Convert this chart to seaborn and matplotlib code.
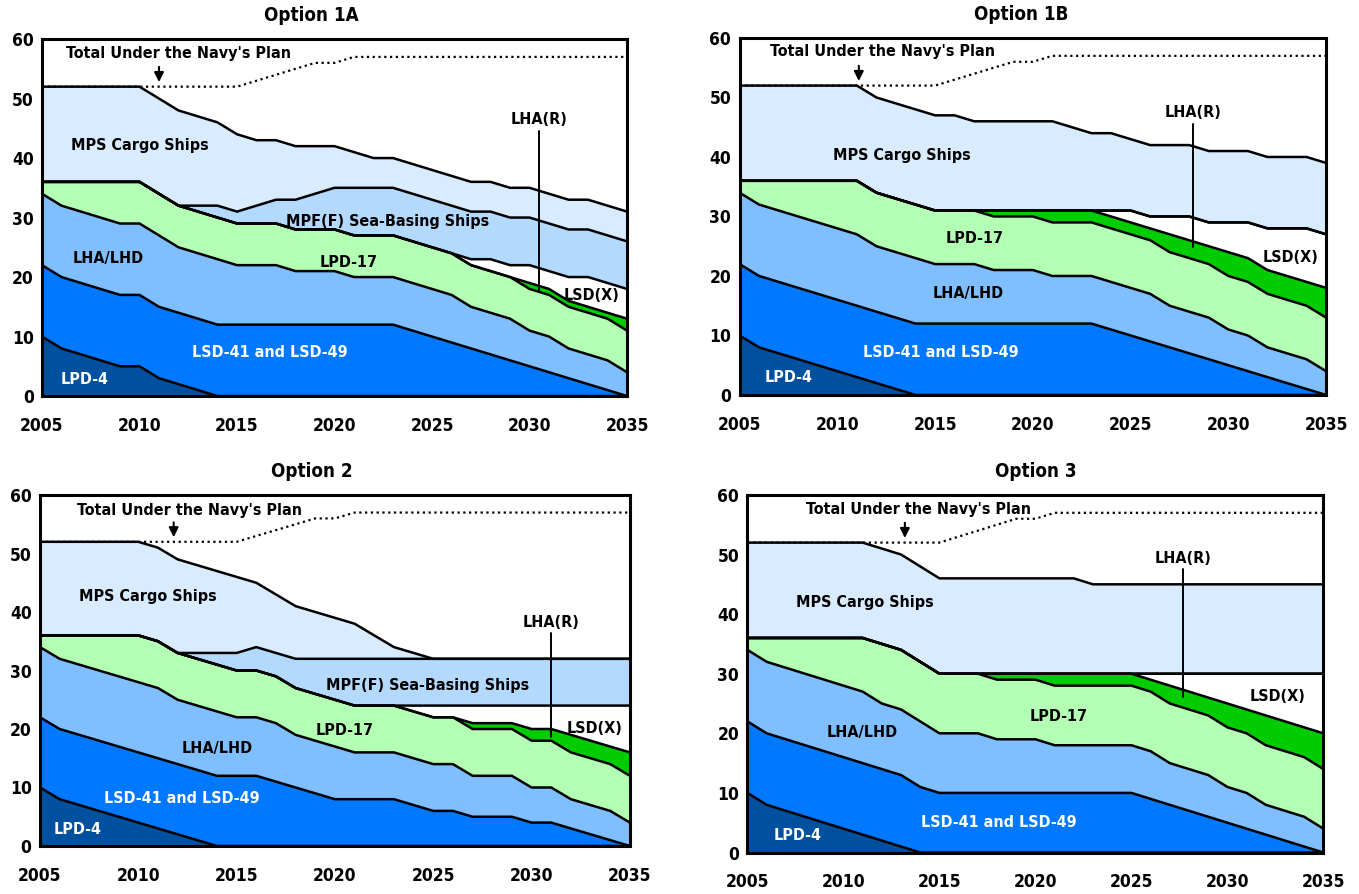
import numpy as np
import matplotlib
matplotlib.use("Agg")
import matplotlib.pyplot as plt
from matplotlib import font_manager
import seaborn as sns

sns.set_style("ticks")

# a narrow bold face is closest to the original; fall back to condensed DejaVu
names = {f.name for f in font_manager.fontManager.ttflist}
if "Liberation Sans Narrow" in names:
    plt.rcParams["font.family"] = ["Liberation Sans Narrow", "DejaVu Sans"]
    fs = 13
else:
    plt.rcParams["font.family"] = ["DejaVu Sans"]
    plt.rcParams["font.stretch"] = "condensed"
    fs = 11.5
plt.rcParams["font.weight"] = "bold"
for key in ["text.color", "axes.labelcolor", "xtick.color", "ytick.color", "axes.edgecolor"]:
    plt.rcParams[key] = "black"

# ---------------------------------------------------------------- data
years = list(range(2005, 2036))

# counts of ships, 2005..2035
lpd4 = [10, 8, 7, 6, 5, 4, 3, 2, 1, 0, 0, 0, 0, 0, 0, 0, 0, 0, 0, 0, 0, 0, 0, 0, 0, 0, 0, 0, 0, 0, 0]
lpd4_1a = [10, 8, 7, 6, 5, 5, 3, 2, 1, 0, 0, 0, 0, 0, 0, 0, 0, 0, 0, 0, 0, 0, 0, 0, 0, 0, 0, 0, 0, 0, 0]

lsd = [12, 12, 12, 12, 12, 12, 12, 12, 12, 12, 12, 12, 12, 12, 12, 12, 12, 12, 12, 11, 10, 9, 8, 7, 6, 5, 4, 3, 2, 1, 0]
lsd_2 = [12, 12, 12, 12, 12, 12, 12, 12, 12, 12, 12, 12, 11, 10, 9, 8, 8, 8, 8, 7, 6, 6, 5, 5, 5, 4, 4, 3, 2, 1, 0]
lsd_3 = [12, 12, 12, 12, 12, 12, 12, 12, 12, 11, 10, 10, 10, 10, 10, 10, 10, 10, 10, 10, 10, 9, 8, 7, 6, 5, 4, 3, 2, 1, 0]

lha_lhd = [12, 12, 12, 12, 12, 12, 12, 11, 11, 11, 10, 10, 10, 9, 9, 9, 8, 8, 8, 8, 8, 8, 7, 7, 7, 6, 6, 5, 5, 5, 4]

lpd17_1a = [2, 4, 5, 6, 7, 7, 7, 7, 7, 7, 7, 7, 7, 7, 7, 7, 7, 7, 7, 7, 7, 7, 7, 7, 7, 7, 7, 7, 7, 7, 7]
lpd17_1b = [2, 4, 5, 6, 7, 8, 9, 9, 9, 9, 9, 9, 9, 9, 9, 9, 9, 9, 9, 9, 9, 9, 9, 9, 9, 9, 9, 9, 9, 9, 9]
lpd17_2 = [2, 4, 5, 6, 7, 8, 8, 8, 8, 8, 8, 8, 8, 8, 8, 8, 8, 8, 8, 8, 8, 8, 8, 8, 8, 8, 8, 8, 8, 8, 8]
lpd17_3 = [2, 4, 5, 6, 7, 8, 9, 10, 10, 10, 10, 10, 10, 10, 10, 10, 10, 10, 10, 10, 10, 10, 10, 10, 10, 10, 10, 10, 10, 10, 10]

lhar_1a = [0, 0, 0, 0, 0, 0, 0, 0, 0, 0, 0, 0, 0, 0, 0, 0, 0, 0, 0, 0, 0, 0, 0, 0, 0, 1, 1, 1, 1, 1, 2]
lhar_1b = [0, 0, 0, 0, 0, 0, 0, 0, 0, 0, 0, 0, 0, 1, 1, 1, 2, 2, 2, 2, 2, 2, 3, 3, 3, 4, 4, 4, 4, 4, 5]
lhar_2 = [0, 0, 0, 0, 0, 0, 0, 0, 0, 0, 0, 0, 0, 0, 0, 0, 0, 0, 0, 0, 0, 0, 1, 1, 1, 2, 2, 3, 3, 3, 4]
lhar_3 = [0, 0, 0, 0, 0, 0, 0, 0, 0, 0, 0, 0, 0, 1, 1, 1, 2, 2, 2, 2, 2, 2, 3, 3, 3, 4, 4, 5, 5, 5, 6]

lsdx_1a = [0, 0, 0, 0, 0, 0, 0, 0, 0, 0, 0, 0, 0, 0, 0, 0, 0, 0, 0, 0, 0, 0, 1, 2, 2, 3, 3, 4, 5, 5, 5]
lsdx_1b = [0, 0, 0, 0, 0, 0, 0, 0, 0, 0, 0, 0, 0, 0, 0, 0, 0, 0, 0, 1, 2, 2, 3, 4, 4, 5, 6, 7, 8, 9, 9]
lsdx_2 = [0, 0, 0, 0, 0, 0, 0, 0, 0, 0, 0, 0, 0, 0, 0, 0, 0, 0, 0, 1, 2, 2, 3, 3, 3, 4, 4, 5, 6, 7, 8]
lsdx_3 = [0, 0, 0, 0, 0, 0, 0, 0, 0, 0, 0, 0, 0, 0, 0, 0, 0, 0, 0, 0, 0, 1, 2, 3, 4, 5, 6, 7, 8, 9, 10]

mpf_1a = [0, 0, 0, 0, 0, 0, 0, 0, 1, 2, 2, 3, 4, 5, 6, 7, 8, 8, 8, 8, 8, 8, 8, 8, 8, 8, 8, 8, 8, 8, 8]
mpf_2 = [0, 0, 0, 0, 0, 0, 0, 0, 1, 2, 3, 4, 4, 5, 6, 7, 8, 8, 8, 8, 8, 8, 8, 8, 8, 8, 8, 8, 8, 8, 8]
mpf_none = [0] * 31

mps_1a = [16, 16, 16, 16, 16, 16, 16, 16, 15, 14, 13, 11, 10, 9, 8, 7, 6, 5, 5, 5, 5, 5, 5, 5, 5, 5, 5, 5, 5, 5, 5]
mps_1b = [16, 16, 16, 16, 16, 16, 16, 16, 16, 16, 16, 16, 15, 15, 15, 15, 15, 14, 13, 13, 12, 12, 12, 12, 12, 12, 12, 12, 12, 12, 12]
mps_2 = [16, 16, 16, 16, 16, 16, 16, 16, 15, 14, 13, 11, 10, 9, 8, 7, 6, 4, 2, 1, 0, 0, 0, 0, 0, 0, 0, 0, 0, 0, 0]
mps_3 = [16, 16, 16, 16, 16, 16, 16, 16, 16, 16, 16, 16, 16, 16, 16, 16, 16, 16, 15, 15, 15, 15, 15, 15, 15, 15, 15, 15, 15, 15, 15]

navy_total = [52, 52, 52, 52, 52, 52, 52, 52, 52, 52, 52, 53, 54, 55, 56, 56, 57, 57, 57, 57, 57, 57, 57, 57, 57, 57, 57, 57, 57, 57, 57]

layer_names = ["LPD-4", "LSD-41 and LSD-49", "LHA/LHD", "LPD-17", "LHA(R)", "LSD(X)",
               "MPF(F) Sea-Basing Ships", "MPS Cargo Ships"]
layer_colors = ["#0050A0", "#0078FF", "#80BFFF", "#B3FFB3", "#00CC00", "#FFFFFF", "#B3D9FF", "#D9ECFF"]

options = {
    "Option 1A": [lpd4_1a, lsd, lha_lhd, lpd17_1a, lhar_1a, lsdx_1a, mpf_1a, mps_1a],
    "Option 1B": [lpd4, lsd, lha_lhd, lpd17_1b, lhar_1b, lsdx_1b, mpf_none, mps_1b],
    "Option 2": [lpd4, lsd_2, lha_lhd, lpd17_2, lhar_2, lsdx_2, mpf_2, mps_2],
    "Option 3": [lpd4, lsd_3, lha_lhd, lpd17_3, lhar_3, lsdx_3, mpf_none, mps_3],
}

# label positions (year, value) per panel
labels = {
    "Option 1A": {"navy": (2012.0, 57.5, 2011.0), "MPS Cargo Ships": (2010.0, 42.1),
                  "MPF(F) Sea-Basing Ships": (2022.7, 29.4), "LHA/LHD": (2008.4, 23.2),
                  "LPD-17": (2020.7, 22.4), "LSD-41 and LSD-49": (2016.7, 7.4), "LPD-4": (2007.2, 2.8),
                  "LHA(R)": (2030.5, 44.6, 17.9), "LSD(X)": (2033.2, 16.9)},
    "Option 1B": {"navy": (2012.3, 57.7, 2011.1), "MPS Cargo Ships": (2013.3, 40.3),
                  "LPD-17": (2017.0, 26.3), "LHA/LHD": (2016.7, 17.0),
                  "LSD-41 and LSD-49": (2015.3, 7.1), "LPD-4": (2007.5, 2.9),
                  "LHA(R)": (2028.2, 45.6, 24.8), "LSD(X)": (2033.2, 23.1)},
    "Option 2": {"navy": (2012.6, 57.4, 2011.8), "MPS Cargo Ships": (2010.5, 42.6),
                 "MPF(F) Sea-Basing Ships": (2024.7, 27.5), "LPD-17": (2020.5, 19.8),
                 "LHA/LHD": (2014.0, 16.7), "LSD-41 and LSD-49": (2012.2, 8.1), "LPD-4": (2006.9, 2.9),
                 "LHA(R)": (2031.0, 36.4, 18.6), "LSD(X)": (2033.2, 20.1)},
    "Option 3": {"navy": (2013.9, 57.5, 2013.2), "MPS Cargo Ships": (2011.1, 42.0),
                 "LPD-17": (2021.2, 22.9), "LHA/LHD": (2011.0, 20.1),
                 "LSD-41 and LSD-49": (2018.1, 5.0), "LPD-4": (2007.6, 2.8),
                 "LHA(R)": (2027.7, 47.5, 26.1), "LSD(X)": (2032.6, 26.1)},
}

# axes rectangles in figure fractions
positions = {
    "Option 1A": [0.0309, 0.557, 0.4305, 0.3993],
    "Option 1B": [0.5442, 0.5582, 0.4316, 0.3993],
    "Option 2": [0.0294, 0.0537, 0.4341, 0.3926],
    "Option 3": [0.5500, 0.0464, 0.4238, 0.4000],
}
title_x = {"Option 1A": 0.46, "Option 1B": 0.48, "Option 2": 0.46, "Option 3": 0.50}

fig = plt.figure(figsize=(13.59, 8.94), dpi=100)

for name, series in options.items():
    ax = fig.add_axes(positions[name])
    ax.stackplot(years, *series, colors=layer_colors, linewidth=0)
    tops = np.cumsum(np.array(series), axis=0)
    for top in tops:
        ax.plot(years, top, color="black", lw=1.8, solid_joinstyle="round")
    ax.plot(years, navy_total, color="black", lw=1.6, ls=(0, (1, 1.6)))

    lab = labels[name]
    nx, ny, ax_arrow = lab["navy"]
    ax.text(nx, ny, "Total Under the Navy's Plan", ha="center", va="center", fontsize=fs)
    ax.annotate("", xy=(ax_arrow, 52.3), xytext=(ax_arrow, 55.8),
                arrowprops=dict(arrowstyle="-|>", color="black", lw=1.5, mutation_scale=14))
    for key, pos in lab.items():
        if key == "navy":
            continue
        if key == "LHA(R)":
            x, yt, ye = pos
            ax.text(x, yt + 0.6, key, ha="center", va="bottom", fontsize=fs)
            ax.plot([x, x], [yt, ye], color="black", lw=1.4)
            continue
        col = "white" if key in ("LPD-4", "LSD-41 and LSD-49") else "black"
        ax.text(pos[0], pos[1], key, ha="center", va="center", fontsize=fs, color=col)

    ax.set_xlim(2005, 2035)
    ax.set_ylim(0, 60)
    ax.set_xticks(range(2005, 2036, 5))
    ax.set_yticks(range(0, 61, 10))
    ax.tick_params(direction="in", length=12, width=1.4, labelsize=fs + 1)
    ax.tick_params(axis="x", pad=15)
    ax.tick_params(axis="y", pad=6)
    for lbl in ax.get_xticklabels() + ax.get_yticklabels():
        lbl.set_fontweight("bold")
    for sp in ax.spines.values():
        sp.set_linewidth(2.2)
        sp.set_visible(True)
    ax.set_title(name, fontsize=fs + 2, fontweight="bold", x=title_x[name], pad=13)

fig.savefig("out.png", dpi=100)
